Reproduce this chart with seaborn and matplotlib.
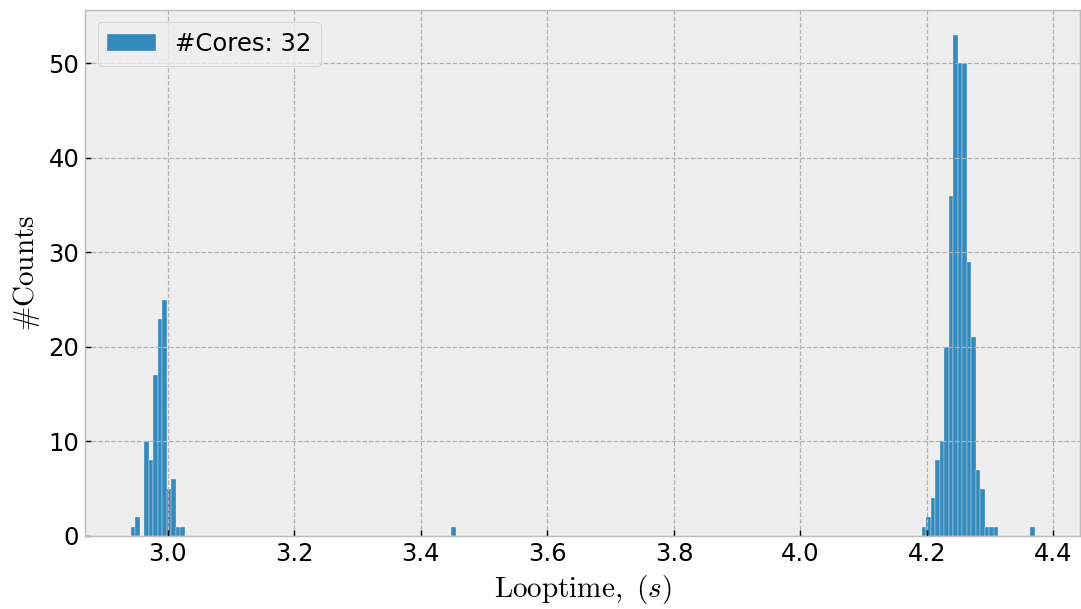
import numpy as np
import pandas as pd
import matplotlib
matplotlib.use('Agg')
import matplotlib.pyplot as plt
import seaborn as sns

plt.style.use('bmh')
plt.rcParams['font.size'] = 14
plt.rcParams['font.family'] = 'DejaVu Sans'
plt.rcParams['mathtext.fontset'] = 'cm'
plt.rcParams['grid.linewidth'] = 0.7

# loop time (bin centres, s) and how many runs fell in each bin
looptime = [2.945, 2.952, 2.966, 2.973, 2.980, 2.987, 2.995, 3.002, 3.009, 3.016, 3.023,
            3.452,
            4.195, 4.202, 4.209, 4.216, 4.224, 4.231, 4.238, 4.245, 4.252, 4.259,
            4.266, 4.274, 4.281, 4.288, 4.295, 4.302, 4.309,
            4.366]
counts = [1, 2, 10, 8, 17, 23, 25, 5, 6, 1, 1,
          1,
          1, 2, 4, 8, 10, 20, 36, 53, 50, 50,
          29, 21, 7, 5, 1, 1, 1,
          1]
n_bins = 200
t_range = (2.941, 4.370)
cores = 32

df = pd.DataFrame({'Looptime': looptime, 'Counts': counts})

fig, ax = plt.subplots(figsize=(8.648, 4.872), dpi=125)
sns.histplot(data=df, x='Looptime', weights='Counts', bins=n_bins, binrange=t_range,
             color='#348ABD', edgecolor='#eeeeee', linewidth=0.2, alpha=1,
             label='#Cores: %d' % cores, ax=ax)
ax.set_xlabel(r'$\mathrm{Looptime},$ $(s)$', fontsize=16.8)
ax.set_ylabel(r'$\#\mathrm{Counts}$', fontsize=16.8)
ax.legend(loc='upper left')

plt.subplots_adjust(left=0.079, right=0.9988, top=0.9836, bottom=0.1199)
plt.savefig('out.png', dpi=125)
